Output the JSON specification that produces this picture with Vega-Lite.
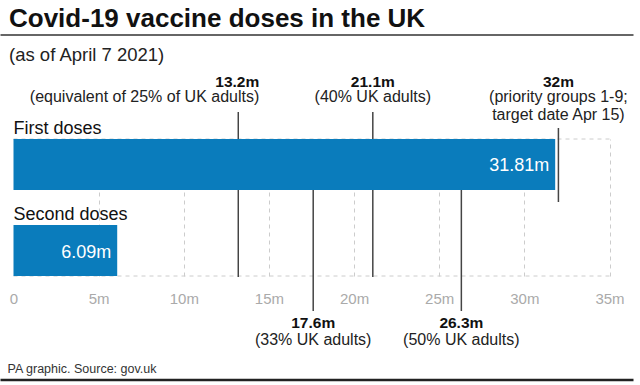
{
  "$schema": "https://vega.github.io/schema/vega-lite/v6.json",
  "width": 633,
  "height": 137,
  "autosize": {"type": "none"},
  "padding": {"left": 0, "top": 139, "right": 7, "bottom": 109},
  "background": "white",
  "config": {"view": {"stroke": null}, "font": "Liberation Sans"},
  "title": {
    "text": "Covid-19 vaccine doses in the UK",
    "subtitle": "(as of April 7 2021)",
    "anchor": "start",
    "frame": "group",
    "dx": 9,
    "offset": -30,
    "font": "Liberation Sans",
    "fontSize": 26,
    "fontWeight": "bold",
    "color": "#111111",
    "subtitleFont": "Liberation Sans",
    "subtitleFontSize": 18.5,
    "subtitleColor": "#222222",
    "subtitlePadding": 14
  },
  "datasets": {
    "bars": [
      {"dose": "First doses", "value": 31.81, "label": "31.81m"},
      {"dose": "Second doses", "value": 6.09, "label": "6.09m"}
    ],
    "milestones": [
      {"value": 13.2, "head": "13.2m", "note": "(equivalent of 25% of UK adults)"},
      {"value": 21.1, "head": "21.1m", "note": "(40% UK adults)"},
      {"value": 32, "head": "32m", "note": ["(priority groups 1-9;", "target date Apr 15)"]},
      {"value": 17.6, "head": "17.6m", "note": "(33% UK adults)"},
      {"value": 26.3, "head": "26.3m", "note": "(50% UK adults)"}
    ]
  },
  "resolve": {"axis": {"x": "independent"}},
  "layer": [
    {
      "data": {"values": [{"edge": "top"}]},
      "mark": {"type": "rule", "color": "#cccccc", "strokeDash": [4, 4], "strokeWidth": 1},
      "encoding": {
        "x": {"datum": 0, "type": "quantitative", "scale": {"domain": [-0.793, 36.38], "nice": false, "zero": false},
          "axis": {"orient": "top", "offset": 104.5, "domain": true, "domainColor": "#333333", "domainWidth": 1.5, "labels": false, "ticks": false, "grid": false, "title": null}},
        "x2": {"datum": 35},
        "y": {"datum": "First doses", "type": "nominal", "bandPosition": 0, "scale": {"domain": ["First doses", "Second doses"], "paddingInner": 0.407, "paddingOuter": 0}, "axis": null}
      }
    },
    {
      "data": {"values": [{"edge": "bottom"}]},
      "mark": {"type": "rule", "color": "#cccccc", "strokeDash": [4, 4], "strokeWidth": 1},
      "encoding": {
        "x": {"datum": 0, "type": "quantitative", "scale": {"domain": [-0.793, 36.38], "nice": false, "zero": false}, "axis": null},
        "x2": {"datum": 35},
        "y": {"datum": "Second doses", "type": "nominal", "bandPosition": 1, "scale": {"domain": ["First doses", "Second doses"], "paddingInner": 0.407, "paddingOuter": 0}, "axis": null}
      }
    },
    {
      "data": {"name": "milestones"},
      "transform": [{"filter": {"field": "value", "oneOf": [13.2, 21.1]}}],
      "mark": {"type": "rule", "color": "#444444", "strokeWidth": 1.5, "yOffset": -27, "y2Offset": 1},
      "encoding": {
        "x": {"field": "value", "type": "quantitative", "scale": {"domain": [-0.793, 36.38], "nice": false, "zero": false}, "axis": null},
        "y": {"datum": "First doses", "type": "nominal", "bandPosition": 0, "scale": {"domain": ["First doses", "Second doses"], "paddingInner": 0.407, "paddingOuter": 0}, "axis": null},
        "y2": {"datum": "Second doses", "bandPosition": 1}
      }
    },
    {
      "data": {"name": "milestones"},
      "transform": [{"filter": {"field": "value", "equal": 32}}],
      "mark": {"type": "rule", "color": "#444444", "strokeWidth": 1.5, "yOffset": -11, "y2Offset": 12},
      "encoding": {
        "x": {"field": "value", "type": "quantitative", "scale": {"domain": [-0.793, 36.38], "nice": false, "zero": false}, "axis": null},
        "y": {"datum": "First doses", "type": "nominal", "bandPosition": 0, "scale": {"domain": ["First doses", "Second doses"], "paddingInner": 0.407, "paddingOuter": 0}, "axis": null},
        "y2": {"datum": "First doses", "bandPosition": 1}
      }
    },
    {
      "data": {"name": "milestones"},
      "transform": [{"filter": {"field": "value", "oneOf": [17.6, 26.3]}}],
      "mark": {"type": "rule", "color": "#444444", "strokeWidth": 1.5, "y2Offset": 35},
      "encoding": {
        "x": {"field": "value", "type": "quantitative", "scale": {"domain": [-0.793, 36.38], "nice": false, "zero": false}, "axis": null},
        "y": {"datum": "First doses", "type": "nominal", "bandPosition": 1, "scale": {"domain": ["First doses", "Second doses"], "paddingInner": 0.407, "paddingOuter": 0}, "axis": null},
        "y2": {"datum": "Second doses", "bandPosition": 1}
      }
    },
    {
      "data": {"name": "bars"},
      "mark": {"type": "bar", "color": "#0a7cbc"},
      "encoding": {
        "y": {"field": "dose", "type": "nominal", "scale": {"domain": ["First doses", "Second doses"], "paddingInner": 0.407, "paddingOuter": 0}, "axis": null},
        "x": {"field": "value", "type": "quantitative", "scale": {"domain": [-0.793, 36.38], "nice": false, "zero": false},
          "axis": {
            "orient": "bottom", "offset": 103.5, "values": [0, 5, 10, 15, 20, 25, 30, 35],
            "labelExpr": "datum.value === 0 ? '0' : datum.value + 'm'",
            "domain": true, "domainColor": "#222222", "domainWidth": 2.5,
            "ticks": false, "tickSize": 0,
            "labelPadding": -76, "labelBaseline": "alphabetic", "labelFontSize": 15, "labelColor": "#aaaaaa", "labelFont": "Liberation Sans",
            "labelFlush": false, "labelOverlap": false,
            "grid": true, "gridDash": [4, 4], "gridWidth": 1,
            "gridColor": {"condition": {"test": "datum.value === 0", "value": "transparent"}, "value": "#cccccc"},
            "title": "PA graphic. Source: gov.uk", "titleX": 7, "titleY": -7, "titleAlign": "left", "titleBaseline": "alphabetic",
            "titleFontSize": 12.5, "titleFontWeight": "normal", "titleColor": "#333333", "titleFont": "Liberation Sans"
          }}
      }
    },
    {
      "data": {"name": "bars"},
      "mark": {"type": "text", "align": "left", "baseline": "alphabetic", "dy": -5.5, "fontSize": 18, "color": "#111111"},
      "encoding": {
        "x": {"datum": 0, "type": "quantitative", "scale": {"domain": [-0.793, 36.38], "nice": false, "zero": false}, "axis": null},
        "y": {"field": "dose", "type": "nominal", "bandPosition": 0, "scale": {"domain": ["First doses", "Second doses"], "paddingInner": 0.407, "paddingOuter": 0}, "axis": null},
        "text": {"field": "dose"}
      }
    },
    {
      "data": {"name": "bars"},
      "mark": {"type": "text", "align": "right", "baseline": "alphabetic", "dx": -6, "dy": 7, "fontSize": 18, "color": "white"},
      "encoding": {
        "x": {"field": "value", "type": "quantitative", "scale": {"domain": [-0.793, 36.38], "nice": false, "zero": false}, "axis": null},
        "y": {"field": "dose", "type": "nominal", "bandPosition": 0.5, "scale": {"domain": ["First doses", "Second doses"], "paddingInner": 0.407, "paddingOuter": 0}, "axis": null},
        "text": {"field": "label"}
      }
    },
    {
      "data": {"name": "milestones"},
      "transform": [{"filter": {"field": "value", "equal": 13.2}}],
      "mark": {"type": "text", "align": "right", "dx": 21, "baseline": "alphabetic", "dy": -52.5, "fontSize": 15.5, "fontWeight": "bold", "color": "#111111"},
      "encoding": {
        "x": {"field": "value", "type": "quantitative", "scale": {"domain": [-0.793, 36.38], "nice": false, "zero": false}, "axis": null},
        "y": {"datum": "First doses", "type": "nominal", "bandPosition": 0, "scale": {"domain": ["First doses", "Second doses"], "paddingInner": 0.407, "paddingOuter": 0}, "axis": null},
        "text": {"field": "head"}
      }
    },
    {
      "data": {"name": "milestones"},
      "transform": [{"filter": {"field": "value", "equal": 13.2}}],
      "mark": {"type": "text", "align": "right", "dx": 21, "baseline": "alphabetic", "dy": -37, "fontSize": 16, "color": "#222222"},
      "encoding": {
        "x": {"field": "value", "type": "quantitative", "scale": {"domain": [-0.793, 36.38], "nice": false, "zero": false}, "axis": null},
        "y": {"datum": "First doses", "type": "nominal", "bandPosition": 0, "scale": {"domain": ["First doses", "Second doses"], "paddingInner": 0.407, "paddingOuter": 0}, "axis": null},
        "text": {"field": "note"}
      }
    },
    {
      "data": {"name": "milestones"},
      "transform": [{"filter": {"field": "value", "oneOf": [21.1, 32]}}],
      "mark": {"type": "text", "align": "center", "baseline": "alphabetic", "dy": -52.5, "fontSize": 15.5, "fontWeight": "bold", "color": "#111111"},
      "encoding": {
        "x": {"field": "value", "type": "quantitative", "scale": {"domain": [-0.793, 36.38], "nice": false, "zero": false}, "axis": null},
        "y": {"datum": "First doses", "type": "nominal", "bandPosition": 0, "scale": {"domain": ["First doses", "Second doses"], "paddingInner": 0.407, "paddingOuter": 0}, "axis": null},
        "text": {"field": "head"}
      }
    },
    {
      "data": {"name": "milestones"},
      "transform": [{"filter": {"field": "value", "oneOf": [21.1, 32]}}],
      "mark": {"type": "text", "align": "center", "baseline": "alphabetic", "dy": -37, "lineHeight": 17.5, "fontSize": 16, "color": "#222222"},
      "encoding": {
        "x": {"field": "value", "type": "quantitative", "scale": {"domain": [-0.793, 36.38], "nice": false, "zero": false}, "axis": null},
        "y": {"datum": "First doses", "type": "nominal", "bandPosition": 0, "scale": {"domain": ["First doses", "Second doses"], "paddingInner": 0.407, "paddingOuter": 0}, "axis": null},
        "text": {"field": "note"}
      }
    },
    {
      "data": {"name": "milestones"},
      "transform": [{"filter": {"field": "value", "oneOf": [17.6, 26.3]}}],
      "mark": {"type": "text", "align": "center", "baseline": "alphabetic", "dy": 52, "fontSize": 15.5, "fontWeight": "bold", "color": "#111111"},
      "encoding": {
        "x": {"field": "value", "type": "quantitative", "scale": {"domain": [-0.793, 36.38], "nice": false, "zero": false}, "axis": null},
        "y": {"datum": "Second doses", "type": "nominal", "bandPosition": 1, "scale": {"domain": ["First doses", "Second doses"], "paddingInner": 0.407, "paddingOuter": 0}, "axis": null},
        "text": {"field": "head"}
      }
    },
    {
      "data": {"name": "milestones"},
      "transform": [{"filter": {"field": "value", "oneOf": [17.6, 26.3]}}],
      "mark": {"type": "text", "align": "center", "baseline": "alphabetic", "dy": 69, "fontSize": 16, "color": "#222222"},
      "encoding": {
        "x": {"field": "value", "type": "quantitative", "scale": {"domain": [-0.793, 36.38], "nice": false, "zero": false}, "axis": null},
        "y": {"datum": "Second doses", "type": "nominal", "bandPosition": 1, "scale": {"domain": ["First doses", "Second doses"], "paddingInner": 0.407, "paddingOuter": 0}, "axis": null},
        "text": {"field": "note"}
      }
    }
  ]
}
